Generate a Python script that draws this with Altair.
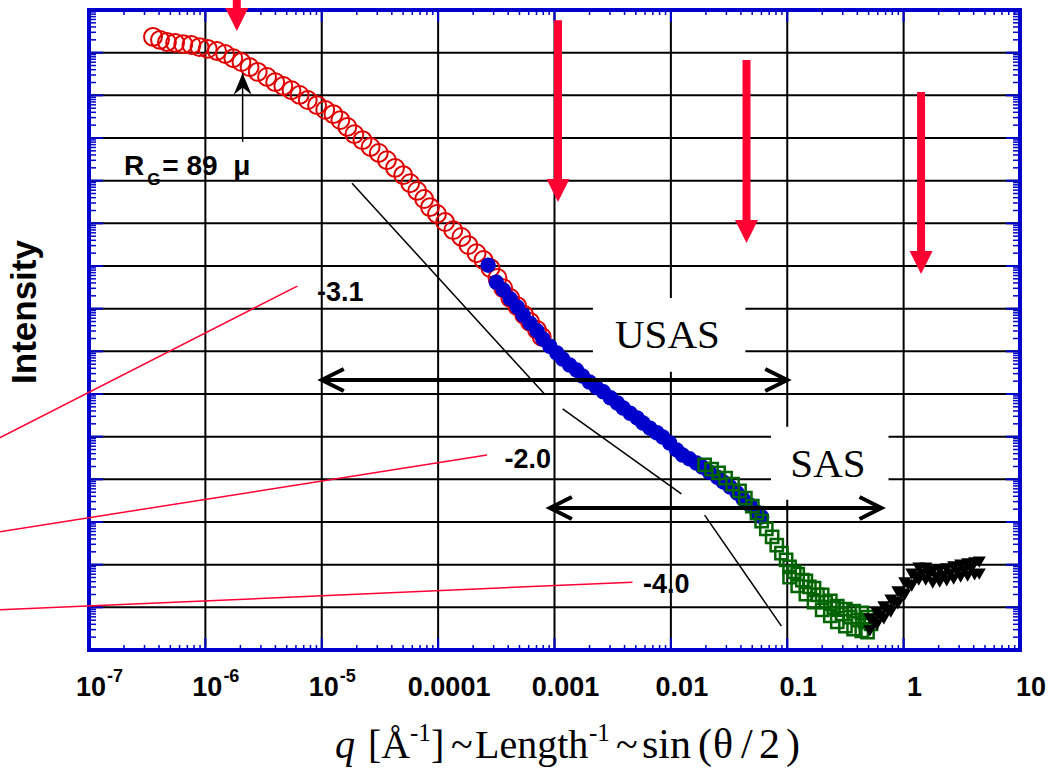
import math
import altair as alt
import pandas as pd

# ---------------- data: log10(q [1/Å]) and log10(intensity, arbitrary) ----------------
red_q = [-6.45, -6.39, -6.33, -6.26, -6.19, -6.12, -6.05, -5.98, -5.90, -5.83, -5.76, -5.69, -5.62,
         -5.55, -5.47, -5.40, -5.33, -5.26, -5.19, -5.12, -5.04, -4.97, -4.90, -4.84, -4.78, -4.72,
         -4.65, -4.58, -4.51, -4.44, -4.37, -4.30, -4.24, -4.18, -4.12, -4.07, -4.01, -3.94, -3.87,
         -3.80, -3.74, -3.67, -3.61, -3.55, -3.49, -3.44, -3.38, -3.32, -3.26, -3.21, -3.15, -3.11]
red_I = [14.37, 14.30, 14.25, 14.23, 14.20, 14.18, 14.13, 14.09, 14.04, 13.97, 13.87, 13.78, 13.66,
         13.55, 13.43, 13.31, 13.22, 13.12, 13.01, 12.89, 12.77, 12.66, 12.56, 12.42, 12.26, 12.09,
         11.95, 11.79, 11.65, 11.48, 11.30, 11.13, 10.94, 10.76, 10.57, 10.38, 10.22, 10.03, 9.84,
         9.68, 9.49, 9.30, 9.14, 8.95, 8.72, 8.48, 8.25, 8.06, 7.85, 7.69, 7.50, 7.34]

blue_q = [-3.57, -3.50, -3.44, -3.38, -3.32, -3.27, -3.21, -3.15, -3.10, -3.04, -2.98, -2.93, -2.87,
          -2.81, -2.76, -2.70, -2.64, -2.58, -2.52, -2.46, -2.41, -2.35, -2.29, -2.24, -2.18, -2.12,
          -2.07, -2.01, -1.95, -1.90, -1.84, -1.78, -1.73, -1.67, -1.60, -1.55, -1.49, -1.43, -1.38,
          -1.32, -1.26, -1.22]
blue_I = [9.02, 8.62, 8.44, 8.23, 8.04, 7.85, 7.66, 7.48, 7.29, 7.12, 6.96, 6.82, 6.68,
          6.56, 6.42, 6.28, 6.16, 6.05, 5.91, 5.79, 5.67, 5.55, 5.44, 5.32, 5.20, 5.09,
          4.99, 4.85, 4.69, 4.57, 4.48, 4.38, 4.29, 4.17, 4.05, 3.94, 3.82, 3.68, 3.54,
          3.40, 3.23, 3.12]

green_q = [-1.71, -1.65, -1.59, -1.53, -1.47, -1.41, -1.36, -1.30, -1.26, -1.22, -1.18, -1.13, -1.09,
           -1.05, -1.01,
           -0.98, -0.91, -0.84, -0.77, -0.70, -0.63, -0.57, -0.50, -0.43, -0.36, -0.31,
           -0.98, -0.91, -0.84, -0.77, -0.70, -0.63, -0.57, -0.50, -0.43, -0.36, -0.31,
           -0.94, -0.87, -0.81, -0.74, -0.67, -0.60, -0.53, -0.46, -0.39, -0.33, -0.28]
green_I = [4.34, 4.24, 4.15, 4.03, 3.89, 3.73, 3.56, 3.37, 3.21, 3.02, 2.84, 2.65, 2.46,
           2.27, 2.11,
           1.95, 1.78, 1.62, 1.45, 1.29, 1.15, 1.03, 0.96, 0.91, 0.87, 0.77,
           1.71, 1.50, 1.31, 1.12, 0.94, 0.80, 0.66, 0.56, 0.49, 0.45, 0.42,
           1.83, 1.64, 1.48, 1.29, 1.12, 0.98, 0.84, 0.77, 0.70, 0.66, 0.61]

black_q = [-0.29, -0.23, -0.17, -0.11, -0.05, 0.01, 0.07, 0.13, 0.19, 0.25, 0.31, 0.37, 0.43, 0.49, 0.55, 0.61, 0.65,
           -0.29, -0.23, -0.17, -0.11, -0.05, 0.01, 0.07, 0.13, 0.19, 0.25, 0.31, 0.37, 0.43, 0.49, 0.55, 0.61, 0.65,
           -0.26, -0.20, -0.14, -0.08, -0.02, 0.04, 0.10, 0.16, 0.22, 0.28, 0.34, 0.40, 0.46, 0.52, 0.58]
black_I = [0.73, 0.87, 1.01, 1.17, 1.36, 1.57, 1.78, 1.92, 1.92, 1.85, 1.87, 1.90, 1.95, 1.99, 2.02, 2.04, 2.06,
           0.45, 0.59, 0.73, 0.89, 1.08, 1.29, 1.50, 1.64, 1.64, 1.57, 1.59, 1.62, 1.66, 1.71, 1.73, 1.76, 1.78,
           0.66, 0.80, 0.94, 1.12, 1.31, 1.52, 1.71, 1.78, 1.76, 1.71, 1.73, 1.78, 1.83, 1.85, 1.90]

# axis ticks / labels (log10 values)
x_major = [-7, -6, -5, -4, -3, -2, -1, 0, 1]
x_labels = ["10", "10", "10", "0.0001", "0.001", "0.01", "0.1", "1", "10"]
x_exps = ["-7", "-6", "-5", "", "", "", "", "", ""]
y_major = list(range(0, 16))

# power-law slope guides and their labels
slope_x1 = [-4.74, -2.93, -1.71]
slope_y1 = [10.94, 5.65, 3.16]
slope_x2 = [-3.08, -1.91, -1.05]
slope_y2 = [5.98, 3.66, 0.56]
slope_text = ["-3.1", "-2.0", "-4.0"]
slope_text_x = [-4.84, -3.23, -2.04]
slope_text_y = [8.37, 4.45, 1.52]
leader_x1 = [-7.77, -7.77, -7.77]
leader_y1 = [4.97, 2.77, 0.94]
leader_x2 = [-5.21, -3.58, -2.33]
leader_y2 = [8.53, 4.57, 1.59]

# red down arrows
arrow_x = [-5.73, -2.97, -1.35, 0.15]
arrow_top = [15.5, 14.76, 13.83, 13.08]
arrow_tip = [14.51, 10.50, 9.54, 8.81]

# instrument ranges
range_name = ["USAS", "SAS"]
range_lo = [-5.0, -3.04]
range_hi = [-1.0, -0.19]
range_y = [6.33, 3.33]
box_x1 = [-2.67, -1.14]
box_x2 = [-1.36, -0.13]
box_y1 = [6.52, 3.52]
box_y2 = [8.25, 5.23]
box_text_x = [-2.03, -0.65]
box_text_y = [7.36, 4.34]

# radius of gyration marker
rg_x = [-5.68]
rg_base = [11.91]
rg_tip = [13.52]

# ---------------- chart ----------------
W, H = 931, 640
BLUE = "#0000CC"
RED = "#FF0033"
SANS = "Liberation Sans"
SERIF = "Liberation Serif"

xs = alt.Scale(domain=[-7, 1], nice=False, zero=False)
ys = alt.Scale(domain=[0, 15], nice=False, zero=False)


def X(f):
    return alt.X(f, type="quantitative", scale=xs, axis=None)


def Y(f):
    return alt.Y(f, type="quantitative", scale=ys, axis=None)


layers = []

# grid
layers.append(alt.Chart(pd.DataFrame({"g": x_major[1:-1]})).mark_rule(color="black", strokeWidth=2)
              .encode(x=X("g")))
layers.append(alt.Chart(pd.DataFrame({"g": y_major[1:-1]})).mark_rule(color="black", strokeWidth=2)
              .encode(y=Y("g")))

# white label boxes (interrupt grid)
boxes = pd.DataFrame({"x1": box_x1, "x2": box_x2, "y1": box_y1, "y2": box_y2})
layers.append(alt.Chart(boxes).mark_rect(fill="white")
              .encode(x=X("x1"), x2="x2", y=Y("y1"), y2="y2"))

# inward ticks
x_minor = [n + math.log10(k) for n in range(-7, 1) for k in range(2, 10)]
y_minor = [n + math.log10(k) for n in range(0, 15) for k in range(2, 10)]
dxM = pd.DataFrame({"t": x_major[1:-1]})
dxm = pd.DataFrame({"t": x_minor})
dyM = pd.DataFrame({"t": y_major[1:-1]})
dym = pd.DataFrame({"t": y_minor})
for df, L, sw in [(dxM, 12, 2), (dxm, 5, 1.5)]:
    layers.append(alt.Chart(df).mark_rule(color=BLUE, strokeWidth=sw)
                  .encode(x=X("t"), y=alt.value(H), y2=alt.value(H - L)))
    layers.append(alt.Chart(df).mark_rule(color=BLUE, strokeWidth=sw)
                  .encode(x=X("t"), y=alt.value(0), y2=alt.value(L)))
for df, L, sw in [(dyM, 14, 2), (dym, 7, 1.5)]:
    layers.append(alt.Chart(df).mark_rule(color=BLUE, strokeWidth=sw)
                  .encode(y=Y("t"), x=alt.value(0), x2=alt.value(L)))
    layers.append(alt.Chart(df).mark_rule(color=BLUE, strokeWidth=sw)
                  .encode(y=Y("t"), x=alt.value(W), x2=alt.value(W - L)))

# frame
layers.append(alt.Chart(pd.DataFrame({"a": [0]})).mark_rect(fill=None, stroke=BLUE, strokeWidth=4)
              .encode(x=alt.value(0), x2=alt.value(W), y=alt.value(0), y2=alt.value(H)))

# slope guides and red leader lines
slopes = pd.DataFrame({"x1": slope_x1, "y1": slope_y1, "x2": slope_x2, "y2": slope_y2})
layers.append(alt.Chart(slopes).mark_rule(color="black", strokeWidth=1.5)
              .encode(x=X("x1"), y=Y("y1"), x2="x2", y2="y2"))
leaders = pd.DataFrame({"x1": leader_x1, "y1": leader_y1, "x2": leader_x2, "y2": leader_y2})
layers.append(alt.Chart(leaders).mark_rule(color=RED, strokeWidth=1.5)
              .encode(x=X("x1"), y=Y("y1"), x2="x2", y2="y2"))

# data series
layers.append(alt.Chart(pd.DataFrame({"q": red_q, "I": red_I}))
              .mark_point(shape="circle", filled=False, color="#E00000", size=320, strokeWidth=2, opacity=1)
              .encode(x=X("q"), y=Y("I")))
layers.append(alt.Chart(pd.DataFrame({"q": blue_q, "I": blue_I}))
              .mark_point(shape="circle", filled=True, color=BLUE, size=240, opacity=1)
              .encode(x=X("q"), y=Y("I")))
layers.append(alt.Chart(pd.DataFrame({"q": green_q, "I": green_I}))
              .mark_point(shape="square", filled=False, color="#006400", size=150, strokeWidth=2.5, opacity=1)
              .encode(x=X("q"), y=Y("I")))
layers.append(alt.Chart(pd.DataFrame({"q": black_q, "I": black_I}))
              .mark_point(shape="triangle-down", filled=True, color="black", size=170, opacity=1)
              .encode(x=X("q"), y=Y("I")))

# range double arrows
rng = pd.DataFrame({"lo": range_lo, "hi": range_hi, "y": range_y, "name": range_name})
layers.append(alt.Chart(rng).mark_rule(color="black", strokeWidth=4)
              .encode(x=X("lo"), x2="hi", y=Y("y")))
layers.append(alt.Chart(rng).mark_point(shape="M 2 -1 L 0 0 L 2 1", filled=False, color="black",
                                        strokeWidth=4, size=484, opacity=1)
              .encode(x=X("lo"), y=Y("y")))
layers.append(alt.Chart(rng).mark_point(shape="M -2 -1 L 0 0 L -2 1", filled=False, color="black",
                                        strokeWidth=4, size=484, opacity=1)
              .encode(x=X("hi"), y=Y("y")))
boxt = pd.DataFrame({"x": box_text_x, "y": box_text_y, "t": range_name})
layers.append(alt.Chart(boxt).mark_text(font=SERIF, fontSize=41, color="black", align="center",
                                        baseline="middle")
              .encode(x=X("x"), y=Y("y"), text="t:N"))

# red arrows
arr = pd.DataFrame({"x": arrow_x, "top": arrow_top, "tip": arrow_tip})
layers.append(alt.Chart(arr).mark_rule(color=RED, strokeWidth=8, y2Offset=-20)
              .encode(x=X("x"), y=Y("top"), y2="tip"))
layers.append(alt.Chart(arr).mark_point(shape="M -1 -2 L 1 -2 L 0 0 Z", filled=True, color=RED,
                                        size=529, opacity=1, strokeWidth=0)
              .encode(x=X("x"), y=Y("tip")))

# slope labels
sl = pd.DataFrame({"x": slope_text_x, "y": slope_text_y, "t": slope_text})
layers.append(alt.Chart(sl).mark_text(font=SANS, fontWeight="bold", fontSize=27, color="black",
                                      align="center", baseline="middle")
              .encode(x=X("x"), y=Y("y"), text="t:N"))

# R_G annotation
rg = pd.DataFrame({"x": rg_x, "b": rg_base, "t": rg_tip})
layers.append(alt.Chart(rg).mark_rule(color="black", strokeWidth=1.5)
              .encode(x=X("x"), y=Y("b"), y2="t"))
layers.append(alt.Chart(rg).mark_point(shape="M 0 0 L 1 2.4 L 0 1.6 L -1 2.4 Z", filled=True, color="black",
                                       size=324, opacity=1, strokeWidth=0)
              .encode(x=X("x"), y=Y("t")))
rgtext = pd.DataFrame({"x": [-6.70, -6.50, -6.37], "y": [11.13, 10.90, 11.13],
                       "t": ["R", "G", "= 89\u00a0\u00a0μ"], "s": [28, 17, 28]})
for i in range(3):
    layers.append(alt.Chart(rgtext.iloc[[i]]).mark_text(font=SANS, fontWeight="bold", fontSize=int(rgtext.s[i]),
                                                        color="black", align="left", baseline="alphabetic")
                  .encode(x=X("x"), y=Y("y"), text="t:N"))

# x tick labels
lab = pd.DataFrame({"v": x_major, "t": x_labels, "e": x_exps})
plain = lab[lab.e == ""]
expo = lab[lab.e != ""]
layers.append(alt.Chart(plain).mark_text(font=SANS, fontWeight="bold", fontSize=27, color="black",
                                         align="center", baseline="alphabetic", dx=11)
              .encode(x=X("v"), y=alt.value(686), text="t:N"))
layers.append(alt.Chart(expo).mark_text(font=SANS, fontWeight="bold", fontSize=27, color="black",
                                        align="right", baseline="alphabetic", dx=17)
              .encode(x=X("v"), y=alt.value(686), text="t:N"))
layers.append(alt.Chart(expo).mark_text(font=SANS, fontWeight="bold", fontSize=18, color="black",
                                        align="left", baseline="alphabetic", dx=18)
              .encode(x=X("v"), y=alt.value(672), text="e:N"))

# y title
layers.append(alt.Chart(pd.DataFrame({"a": ["Intensity"]}))
              .mark_text(font=SANS, fontWeight="bold", fontSize=35, color="black", angle=270,
                         align="center", baseline="middle")
              .encode(x=alt.value(-64), y=alt.value(302), text="a:N"))

# x title pieces: (text, x px, baseline px, size, italic)
title_parts = [("q", 246, 748, 40, True), ("[Å", 279, 748, 40, False), ("-1", 321, 731, 25, False),
               ("]", 342, 748, 40, False), ("~", 362, 748, 40, False), ("Length", 386, 748, 40, False),
               ("-1", 500, 731, 25, False), ("~", 527, 748, 40, False), ("sin", 553, 748, 42, False),
               ("(", 609, 748, 42, False), ("θ", 624, 748, 42, False), ("/", 652, 748, 42, False),
               ("2", 670, 748, 42, False), (")", 697, 748, 42, False)]
for t, px, py, fs, it in title_parts:
    layers.append(alt.Chart(pd.DataFrame({"a": [t]}))
                  .mark_text(font=SERIF, fontSize=fs, fontStyle="italic" if it else "normal", color="black",
                             align="left", baseline="alphabetic")
                  .encode(x=alt.value(px), y=alt.value(py), text="a:N"))

chart = alt.layer(*layers).properties(
    width=W, height=H,
    autosize=alt.AutoSizeParams(type="none"),
    padding={"left": 89, "top": 10, "right": 30, "bottom": 118},
).configure_view(stroke=None)

chart.save("out.html", embed_options={"renderer": "svg", "actions": False})
